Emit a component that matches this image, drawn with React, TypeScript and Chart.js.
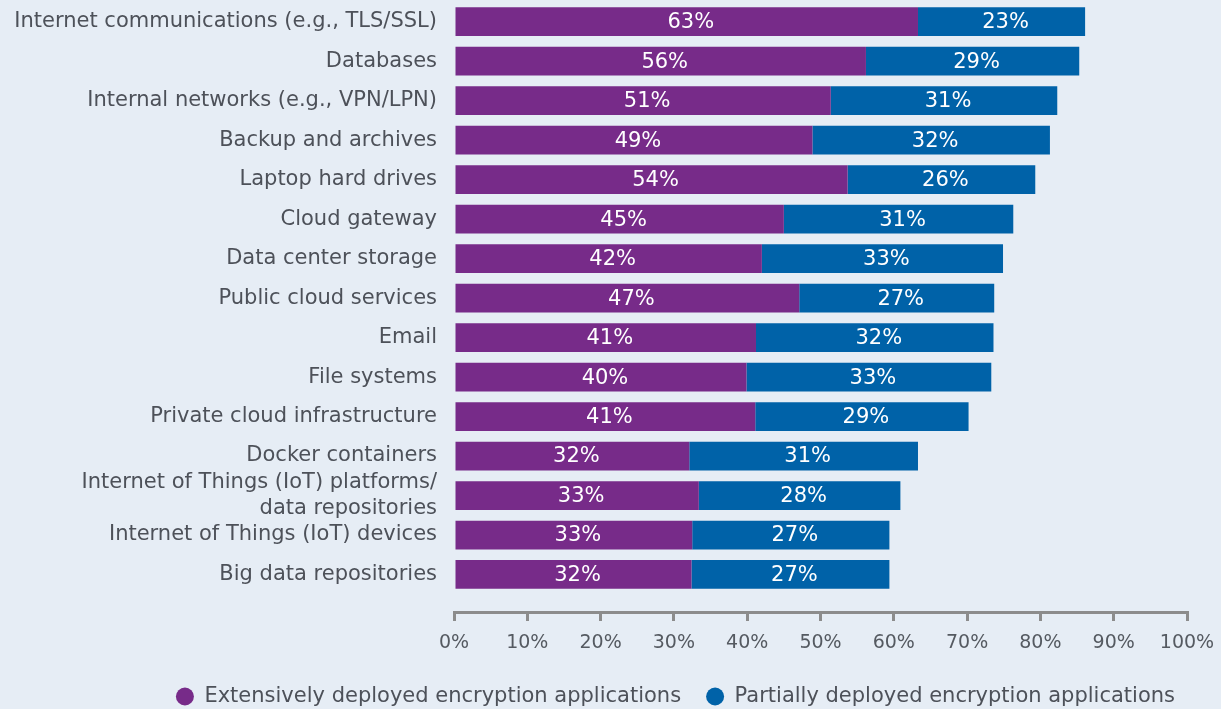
import { useEffect, useRef } from 'react';
import { Chart, registerables } from 'chart.js';

Chart.register(...registerables);

const categories: (string | string[])[] = [
  'Internet communications (e.g., TLS/SSL)',
  'Databases',
  'Internal networks (e.g., VPN/LPN)',
  'Backup and archives',
  'Laptop hard drives',
  'Cloud gateway',
  'Data center storage',
  'Public cloud services',
  'Email',
  'File systems',
  'Private cloud infrastructure',
  'Docker containers',
  ['Internet of Things (IoT) platforms/', 'data repositories'],
  'Internet of Things (IoT) devices',
  'Big data repositories',
];

const extensive = [63.3, 56.2, 51.4, 48.9, 53.7, 45.0, 42.0, 47.1, 41.2, 39.9, 41.1, 32.1, 33.4, 32.5, 32.4];
const partial = [22.8, 29.1, 30.9, 32.4, 25.6, 31.3, 32.9, 26.6, 32.4, 33.4, 29.1, 31.2, 27.5, 26.9, 27.0];

const seriesNames = [
  'Extensively deployed encryption applications',
  'Partially deployed encryption applications',
];

const xTickValues = [0, 10, 20, 30, 40, 50, 60, 70, 80, 90, 100];

const FONT = '"DejaVu Sans", "Noto Sans", sans-serif';
const TEXT = '#4d5159';
const AXIS = '#8c8c8c';
const BG = '#e6edf5';
const PURPLE = '#772b89';
const BLUE = '#0062a8';

const barLabels = {
  id: 'barLabels',
  afterDatasetsDraw(chart: any) {
    const { ctx } = chart;
    ctx.save();
    ctx.font = `21px ${FONT}`;
    ctx.fillStyle = '#ffffff';
    ctx.textAlign = 'center';
    ctx.textBaseline = 'middle';
    chart.data.datasets.forEach((ds: any, di: number) => {
      const meta = chart.getDatasetMeta(di);
      meta.data.forEach((el: any, i: number) => {
        const { x, y, base } = el.getProps(['x', 'y', 'base'], true);
        const v = ds.data[i].x;
        ctx.fillText(Math.round(v) + '%', (x + base) / 2 + 4, y + 1);
      });
    });
    ctx.restore();
  },
};

export default function App() {
  const ref = useRef<HTMLCanvasElement>(null);

  useEffect(() => {
    const chart = new Chart(ref.current as HTMLCanvasElement, {
      type: 'bar',
      data: {
        datasets: [
          {
            label: seriesNames[0],
            data: extensive.map((v, i) => ({ x: v, y: i })),
            backgroundColor: PURPLE,
            borderWidth: 0,
          },
          {
            label: seriesNames[1],
            data: partial.map((v, i) => ({ x: v, y: i })),
            backgroundColor: BLUE,
            borderWidth: 0,
          },
        ] as any,
      },
      options: {
        indexAxis: 'y',
        animation: false,
        responsive: true,
        maintainAspectRatio: false,
        datasets: { bar: { barPercentage: 0.728, categoryPercentage: 1 } },
        layout: { padding: { top: 2, left: 4, right: 21, bottom: 0 } },
        scales: {
          x: {
            type: 'linear',
            stacked: true,
            min: 0,
            max: 100,
            afterBuildTicks: (s: any) => {
              s.ticks = xTickValues.map((v) => ({ value: v }));
            },
            afterFit: (s: any) => {
              s.height = 49;
              s.paddingRight = 34;
            },
            ticks: {
              callback: (v: any) => v + '%',
              color: '#555a61',
              font: { family: FONT, size: 19 },
              padding: 11,
              maxRotation: 0,
              autoSkip: false,
            },
            grid: {
              drawOnChartArea: false,
              drawTicks: true,
              tickLength: 9,
              color: AXIS,
              lineWidth: 3,
            },
            border: { display: true, color: AXIS, width: 3 },
          },
          y: {
            type: 'linear',
            stacked: true,
            reverse: true,
            offset: false,
            min: -0.5,
            max: 14.95,
            afterBuildTicks: (s: any) => {
              s.ticks = categories.map((_, i) => ({ value: i }));
            },
            afterFit: (s: any) => {
              s.width = 450;
              s.paddingTop = 0;
              s.paddingBottom = 0;
            },
            ticks: {
              callback: (v: any) => categories[v as number] as any,
              color: TEXT,
              font: { family: FONT, size: 21, lineHeight: 1.2 },
              padding: 17,
              autoSkip: false,
            },
            grid: { display: false, drawTicks: false },
            border: { display: false },
          },
        },
        plugins: {
          legend: {
            display: true,
            position: 'bottom',
            align: 'end',
            labels: {
              usePointStyle: true,
              pointStyle: 'circle',
              boxWidth: 18,
              boxHeight: 12.73,
              padding: 25,
              color: TEXT,
              font: { family: FONT, size: 21 },
            },
          },
          tooltip: { enabled: false },
        },
      },
      plugins: [barLabels],
    });
    return () => chart.destroy();
  }, []);

  return (
    <div
      style={{
        position: 'fixed',
        left: 0,
        top: 0,
        width: 1221,
        height: 709,
        background: BG,
        overflow: 'hidden',
      }}
    >
      <div style={{ position: 'relative', width: 1221, height: 717 }}>
        <canvas ref={ref} />
      </div>
    </div>
  );
}
